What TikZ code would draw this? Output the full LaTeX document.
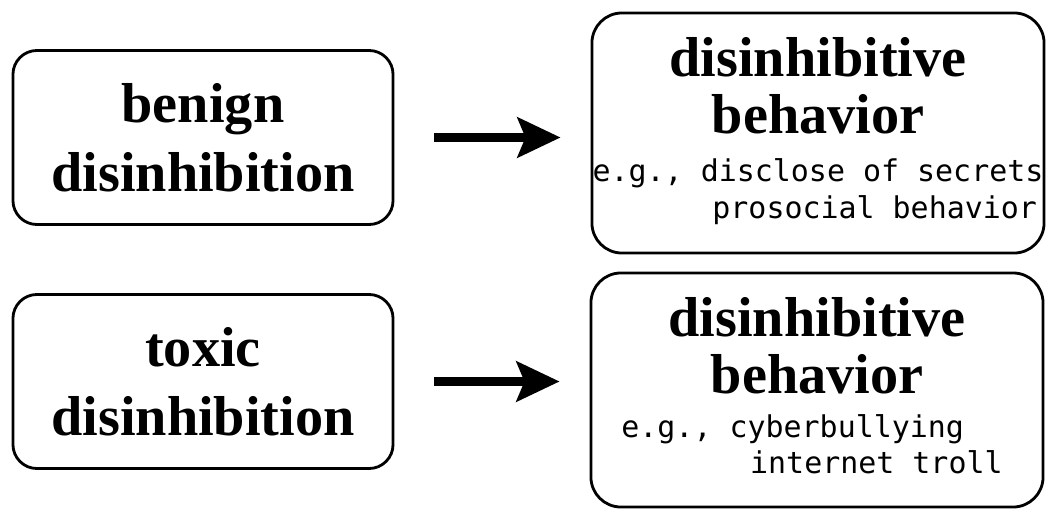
\documentclass[tikz,border=0pt]{standalone}
\usepackage{fontspec}
\setmainfont{Liberation Serif}
\newfontfamily\egfont{DejaVu Sans Mono}
\usetikzlibrary{arrows.meta, positioning}

\begin{document}
\begin{tikzpicture}[
      x=0.025cm, y=0.025cm,
      node distance = 0.5cm,
      causebox/.style={rectangle, draw, line width=2pt, rounded corners=0.6cm, minimum width=9.5cm, minimum height=4.35cm, align=center, font=\fontsize{40}{49}\selectfont\bfseries},
      effectbox/.style={rectangle, draw, line width=2pt, rounded corners=0.75cm, minimum width=11.3cm},
      title_text/.style={inner sep=0pt, align=center, font=\fontsize{40}{40.5}\selectfont\bfseries},
      eg_text/.style={inner sep=0pt, align=left, font=\fontsize{21.3}{26}\egfont},
      line/.style={draw, line width=5.7pt, -{Stealth[length=1.075cm, width=1cm, inset=0.2cm]}, shorten <=1cm, shorten >=0.75cm}
  ]
  \useasboundingbox (0,0) rectangle (1046,509);

  \node [causebox] (benign) at (203,371.5) {benign\\disinhibition};
  \node [causebox] (toxic) at (203,127.5) {toxic\\disinhibition};
  \node [effectbox, minimum height=6cm] (prosocial) at (818,376) {};
  \node [effectbox, minimum height=5.85cm] (antisocial) at (817,119) {};

  \node [title_text, below=0.65cm of prosocial.north] (title1) {disinhibitive\\behavior};
  \node [eg_text, below=0.6cm of title1] (eg1) {e.g., disclose of secrets\\\hspace*{4em}prosocial behavior};
  \node [title_text, below=0.65cm of antisocial.north] (title2) {disinhibitive\\behavior};
  \node [eg_text, below=0.48cm of title2, xshift=-0.125cm] (eg2) {e.g., cyberbullying\\\hspace*{4.3em}internet troll};

  \path [line] (benign.east) -- (benign.east -| prosocial.west);
  \path [line] (toxic.east) -- (toxic.east -| antisocial.west);

  \end{tikzpicture}
\end{document}
